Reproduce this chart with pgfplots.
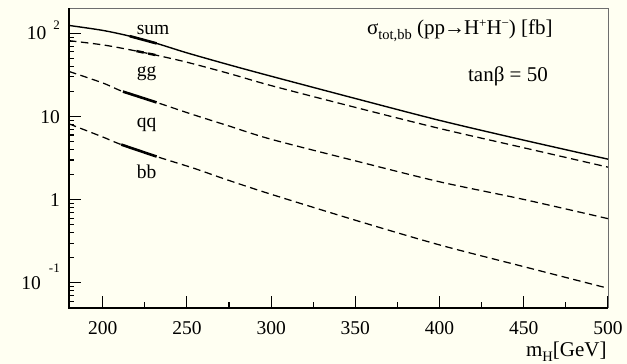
\documentclass[border=0pt]{standalone}
\usepackage{fontspec}
\setmainfont{Liberation Serif}
\usepackage{pgfplots}
\pgfplotsset{compat=1.18}
\definecolor{bg}{RGB}{255,255,242}
\definecolor{frame}{RGB}{110,110,110}
\newcommand{\bigf}{\fontsize{19.5}{22}\selectfont}
\newcommand{\titf}{\fontsize{21}{24}\selectfont}
\newcommand{\smallf}{\fontsize{13}{15}\selectfont}
\newcommand{\subf}{\fontsize{14.5}{16}\selectfont}
\begin{document}
\bigf
\begin{tikzpicture}[font=\bigf]
\path[use as bounding box, fill=bg] (-69pt,-56.3pt) rectangle (558pt,307.7pt);
\begin{axis}[
  at={(0pt,0pt)}, anchor=south west,
  scale only axis, width=539pt, height=299.2pt,
  xmin=180, xmax=500, ymode=log, ymin=0.05, ymax=200,
  xtick={200,250,...,500}, minor xtick={225,275,...,475},
  xticklabels={200,250,300,350,400,450,500},
  ytick={0.1,1,10,100},
  yticklabels={10\hspace{8pt}\raisebox{17pt}{\smallf -1},1\hspace{16pt},10\hspace{14pt},10\hspace{7pt}\raisebox{10pt}{\smallf 2}},
  minor ytick={0.06,0.07,0.08,0.09,0.2,0.3,0.4,0.5,0.6,0.7,0.8,0.9,2,3,4,5,6,7,8,9,20,30,40,50,60,70,80,90},
  xtick pos=bottom, ytick pos=left,
  tick align=inside,
  major tick length=12pt, minor tick length=5.5pt,
  every tick/.style={black, line width=1.1pt},
  axis line style={draw=frame, line width=0.8pt},
  /pgf/number format/assume math mode=true,
  tick label style={font=\bigf},
  xticklabel style={anchor=base, inner sep=0pt, yshift=-26.6pt},
  yticklabel style={anchor=base east, inner sep=0pt, xshift=-9pt, yshift=-6.5pt},
  xlabel={m\raisebox{-4.5pt}{\subf H}[GeV]},
  xlabel style={at={(rel axis cs:1,0)}, anchor=base east, inner sep=0pt, yshift=-49pt, xshift=-1.3pt, font=\titf},
  clip=false,
]
\draw[black, line width=1.6pt] (rel axis cs:0,1) -- (rel axis cs:0,0) -- (rel axis cs:1,0);
% sum
\addplot[black, line width=1.4pt, smooth, tension=0.5] coordinates {
 (180,125) (200,109) (216,93) (232,76) (250,58.5) (275,42) (300,30.6) (350,16.5) (400,9.0) (450,5.2) (500,3.07)};
\addplot[black, line width=2.6pt] coordinates {(216,93) (232,76)};
% gg
\addplot[black, line width=1.25pt, smooth, tension=0.5, dash pattern=on 7.5pt off 4.5pt] coordinates {
 (180,82) (200,73) (216,63.8) (232,54.7) (250,45.1) (275,33) (300,23.6) (350,12.9) (400,7.19) (450,4.21) (500,2.46)};
\addplot[black, line width=2.4pt, dash pattern=on 7.5pt off 4.5pt] coordinates {(220,61.5) (232,54.7)};
% qq
\addplot[black, line width=1.25pt, smooth, tension=0.5, dash pattern=on 7.5pt off 4.5pt] coordinates {
 (180,34.9) (200,25.4) (212,20.0) (232,14.8) (254,10.5) (275,7.7) (300,5.33) (350,2.93) (400,1.64) (450,1.005) (500,0.59)};
\addplot[black, line width=2.6pt] coordinates {(212,20.0) (232,14.8)};
% bb
\addplot[black, line width=1.25pt, smooth, tension=0.5, dash pattern=on 7.5pt off 4.5pt] coordinates {
 (180,8.17) (200,5.68) (211,4.6) (232,3.30) (254,2.39) (275,1.7) (300,1.16) (350,0.565) (400,0.285) (450,0.156) (500,0.0857)};
\addplot[black, line width=2.6pt] coordinates {(211,4.6) (232,3.30)};
% labels
\node[anchor=base, inner sep=0pt] at (axis cs:229.9,96.4) {sum};
\node[anchor=base, inner sep=0pt] at (axis cs:226.1,30.1) {gg};
\node[anchor=base, inner sep=0pt] at (axis cs:226.1,7.41) {qq};
\node[anchor=base, inner sep=0pt] at (axis cs:226.1,1.82) {bb};
\node[anchor=base east, inner sep=0pt, font=\titf] at (axis cs:467.3,96.4) {σ\raisebox{-4.5pt}{\subf tot,bb} (pp\kern-1pt→\kern-1ptH\raisebox{7.5pt}{\smallf +}H\raisebox{7.5pt}{\smallf −}) [fb]};
\node[anchor=base east, inner sep=0pt, font=\titf] at (axis cs:464.4,26.2) {tanβ = 50};
\end{axis}
\end{tikzpicture}
\end{document}
